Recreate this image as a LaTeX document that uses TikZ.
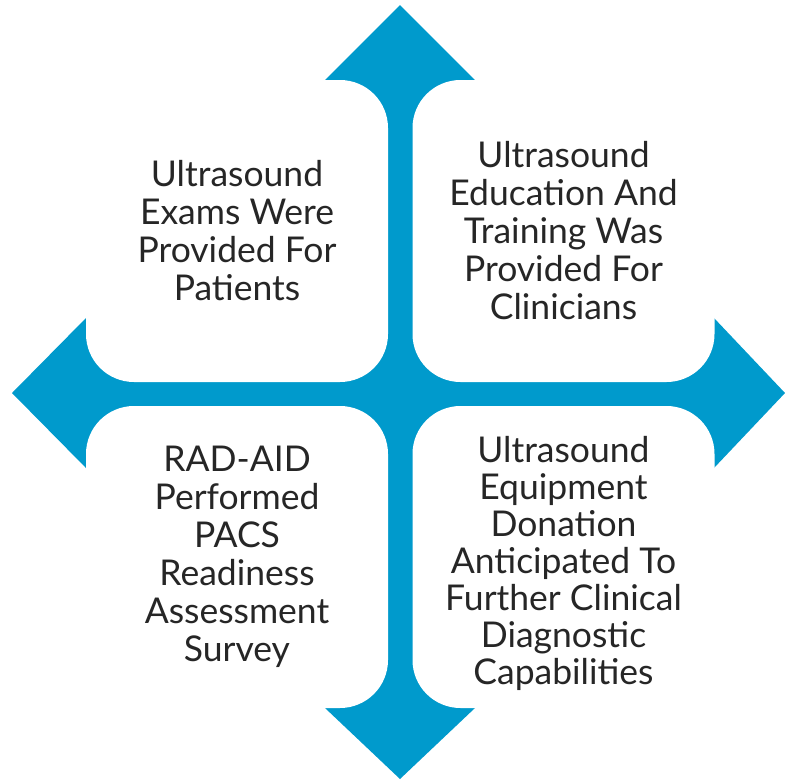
\documentclass[tikz,border=0pt]{standalone}
\usepackage{fontspec}
\setmainfont{Lato}
\definecolor{bleu}{RGB}{0,154,204}
\definecolor{texte}{RGB}{38,38,38}
\begin{document}
\begin{tikzpicture}[x=1pt, y=-1pt]
	\tikzset{boite/.style={rectangle, fill=white, draw=none, rounded corners=48pt, inner sep=0pt, minimum width=302pt, minimum height=302pt, align=center, text=texte, font=\fontsize{35.5}{38}\selectfont}};

	\useasboundingbox (0,0) rectangle (785,780);

	% la croix
	\fill[bleu] (400,5) -- (475,80) -- (475,318) -- (714,318) -- (785,393) -- (714,468) -- (475,468) -- (475,708)
		-- (400,779) -- (325,708) -- (325,468) -- (86,468) -- (12,393) -- (86,318) -- (325,318) -- (325,80) -- cycle;

	\node[boite] (hg) at (237,231) {Ultrasound\\Exams Were\\Provided For\\Patients};
	\node[boite] (hd) at (563.5,231) {Ultrasound\\Education And\\Training Was\\Provided For\\Clinicians};
	\node[boite] (bg) at (237,557) {RAD-AID\\Performed\\PACS\\Readiness\\Assessment\\Survey};
	\node[boite, font=\fontsize{35.5}{36.2}\selectfont] (bd) at (563.5,557) {\begin{tabular}{@{}c@{}}\rule{0pt}{44pt}Ultrasound\\Equipment\\Donation\\Anticipated To\\Further Clinical\\Diagnostic\\Capabilities\end{tabular}};

\end{tikzpicture}
\end{document}
